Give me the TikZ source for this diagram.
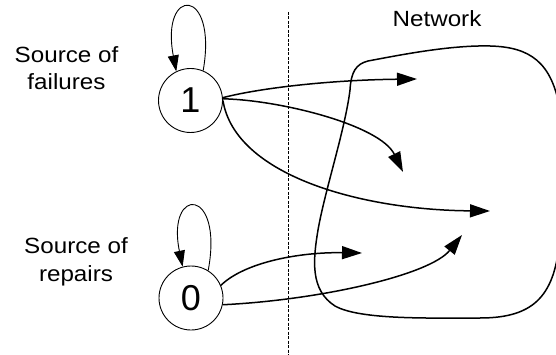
\documentclass[tikz,border=0pt]{standalone}
\usepackage{fontspec}
\setmainfont{Liberation Sans}
\newfontfamily\labfont[FakeStretch=1.1]{Liberation Sans}
\usetikzlibrary{arrows.meta}
\tikzset{
  state/.style={circle, draw, line width=0.9pt, minimum size=64pt, inner sep=0pt,
    font=\fontsize{36}{40}\selectfont},
  lab/.style={align=center, font=\labfont\fontsize{22}{27.5}\selectfont, inner sep=0pt},
  flow/.style={line width=1.5pt, -{Triangle[length=20pt,width=13pt]}},
  loopa/.style={line width=0.9pt, -{Triangle[length=16pt,width=11pt]}},
}
\begin{document}
\begin{tikzpicture}[x=1pt,y=-1pt]
\useasboundingbox (0,0) rectangle (556,355);
\clip (0,0) rectangle (556,355);
% nodes
\node[state] (n1) at (190.5,100.5) {1};
\node[state] (n0) at (191,298) {0};
\node[lab, anchor=base] (tf) at (66.5,90) {Source of\\failures};
\node[lab, anchor=base] (tr) at (76,281) {Source of\\repairs};
\node[lab, anchor=base] (tn) at (437,27) {Network};
% dashed divider
\coordinate (dtop) at (288,12);
\coordinate (dbot) at (288,356);
\draw[line width=1pt, dash pattern=on 3pt off 1.5pt] (dtop) -- (dbot);
% network blob
\draw[line width=1.5pt]
  (368,61) .. controls (400,55) and (450,45) .. (490,46)
  .. controls (530,47) and (552,62) .. (560,110)
  -- (560,235)
  .. controls (556,295) and (535,318) .. (480,318)
  .. controls (430,318) and (360,320) .. (335,306)
  .. controls (310,290) and (313,260) .. (318,230)
  .. controls (325,190) and (345,130) .. (350,90)
  .. controls (351,72) and (356,64) .. (368,61) -- cycle;
% targets
\coordinate (ta) at (417,79);
\coordinate (tb) at (403,172);
\coordinate (tc) at (490,211);
\coordinate (td) at (362,253);
\coordinate (te) at (462,235);
% self loops
\draw[loopa] (n1.67) .. controls (218,-14) and (160,-14) .. (n1.116);
\draw[loopa] (n0.58) .. controls (224,186) and (166,186) .. (n0.105);
% failure arrows
\draw[flow] (n1.5) .. controls (260,88) and (330,80) .. (ta);
\draw[flow] (n1.3) .. controls (280,100) and (380,125) .. (tb);
\draw[flow] (n1.0) .. controls (235,175) and (360,210) .. (tc);
% repair arrows
\draw[flow] (n0.23) .. controls (245,262) and (300,252) .. (td);
\draw[flow] (n0.-12) .. controls (320,300) and (430,275) .. (te);
\end{tikzpicture}
\end{document}
